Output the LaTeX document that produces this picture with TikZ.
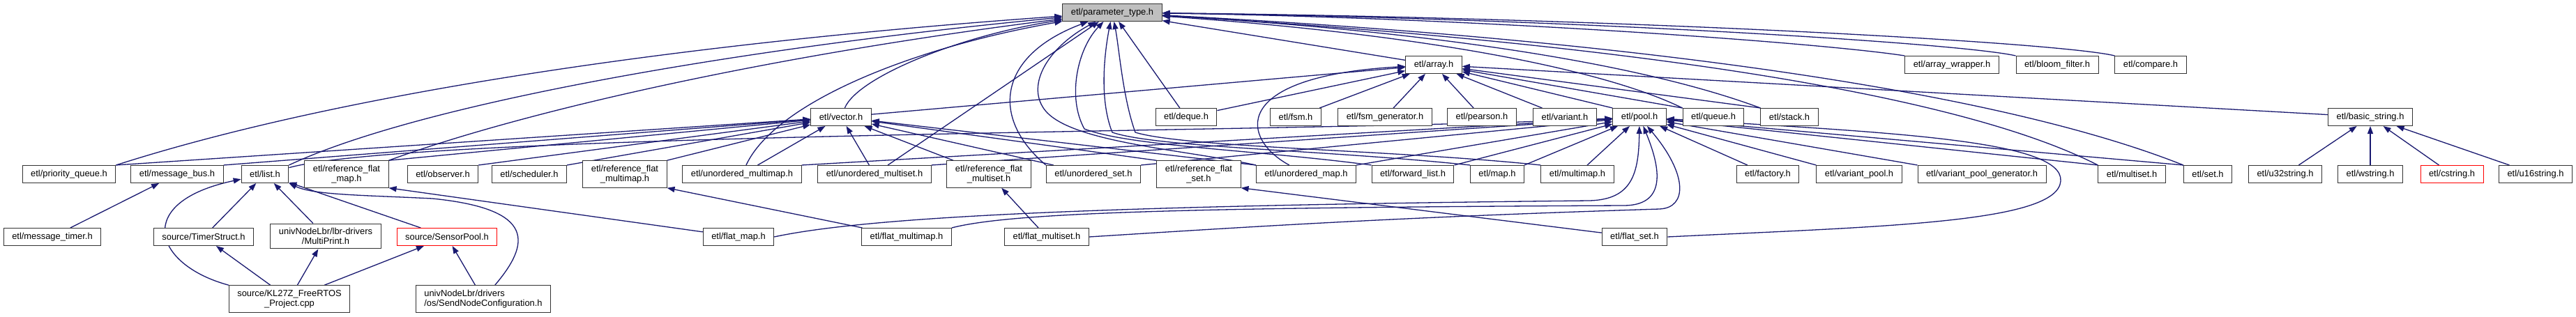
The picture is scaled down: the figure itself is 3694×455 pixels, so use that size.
\documentclass[tikz,border=0pt]{standalone}
\usepackage{fontspec}
\setmainfont{Liberation Sans}
\usetikzlibrary{arrows.meta, backgrounds}
\definecolor{edgeblue}{HTML}{191970}
\definecolor{focusgray}{HTML}{BFBFBF}

\begin{document}
\begin{tikzpicture}[x=1pt, y=-1pt]

    \tikzstyle{file} = [rectangle, draw=black!80, line width=1pt, fill=white, inner xsep=12pt, inner ysep=6pt, minimum height=25pt, align=center, font=\fontsize{12.9}{14.5}\selectfont]
    \tikzstyle{focus} = [file, fill=focusgray]
    \tikzstyle{flagged} = [file, draw=red]
    \tikzstyle{arrow} = [edgeblue, line width=1.3pt, -{Triangle[length=11pt, width=8pt]}]

    \useasboundingbox (0,0) rectangle (3694,455);

    \node (param) [focus] at (1595,18) {etl/parameter\_type.h};

    \node (array) [file] at (2056,93) {etl/array.h};
    \node (arraywrap) [file] at (2799,93) {etl/array\_wrapper.h};
    \node (bloom) [file] at (2950,93) {etl/bloom\_filter.h};
    \node (compare) [file] at (3084,93) {etl/compare.h};

    \node (vector) [file] at (1206,168) {etl/vector.h};
    \node (deque) [file] at (1701,168) {etl/deque.h};
    \node (fsm) [file] at (1858,168) {etl/fsm.h};
    \node (fsmgen) [file] at (1986,168) {etl/fsm\_generator.h};
    \node (pearson) [file] at (2125,168) {etl/pearson.h};
    \node (variant) [file] at (2244,168) {etl/variant.h};
    \node (pool) [file] at (2351,168) {etl/pool.h};
    \node (queue) [file] at (2457,168) {etl/queue.h};
    \node (stack) [file] at (2566,168) {etl/stack.h};
    \node (basicstr) [file] at (3399,168) {etl/basic\_string.h};

    \node (prio) [file] at (99,250) {etl/priority\_queue.h};
    \node (msgbus) [file] at (254,250) {etl/message\_bus.h};
    \node (list) [file] at (380,250) {etl/list.h};
    \node (refmap) [file] at (497,250) {etl/reference\_flat\\\_map.h};
    \node (observer) [file] at (635,250) {etl/observer.h};
    \node (scheduler) [file] at (759,250) {etl/scheduler.h};
    \node (refmmap) [file] at (896,250) {etl/reference\_flat\\\_multimap.h};
    \node (umultimap) [file] at (1064,250) {etl/unordered\_multimap.h};
    \node (umultiset) [file] at (1254,250) {etl/unordered\_multiset.h};
    \node (refmset) [file] at (1418,250) {etl/reference\_flat\\\_multiset.h};
    \node (uset) [file] at (1568,250) {etl/unordered\_set.h};
    \node (refset) [file] at (1719,250) {etl/reference\_flat\\\_set.h};
    \node (umap) [file] at (1873,250) {etl/unordered\_map.h};
    \node (fwdlist) [file] at (2026,250) {etl/forward\_list.h};
    \node (map) [file] at (2147,250) {etl/map.h};
    \node (multimap) [file] at (2262,250) {etl/multimap.h};
    \node (factory) [file] at (2535,250) {etl/factory.h};
    \node (varpool) [file] at (2666,250) {etl/variant\_pool.h};
    \node (varpoolgen) [file] at (2842,250) {etl/variant\_pool\_generator.h};
    \node (multiset) [file] at (3057,250) {etl/multiset.h};
    \node (set) [file] at (3166,250) {etl/set.h};
    \node (u32) [file] at (3277,250) {etl/u32string.h};
    \node (wstring) [file] at (3399,250) {etl/wstring.h};
    \node (cstring) [flagged] at (3516,250) {etl/cstring.h};
    \node (u16) [file] at (3636,250) {etl/u16string.h};

    \node (msgtimer) [file] at (75,340) {etl/message\_timer.h};
    \node (timerstruct) [file] at (292,340) {source/TimerStruct.h};
    \node (multiprint) [file] at (467,339) {univNodeLbr/lbr-drivers\\/MultiPrint.h};
    \node (sensorpool) [flagged] at (641,340) {source/SensorPool.h};
    \node (flatmap) [file] at (1059,340) {etl/flat\_map.h};
    \node (flatmmap) [file] at (1300,340) {etl/flat\_multimap.h};
    \node (flatmset) [file] at (1501,340) {etl/flat\_multiset.h};
    \node (flatset) [file] at (2344,340) {etl/flat\_set.h};

    \node (kl27z) [file] at (415,429) {source/KL27Z\_FreeRTOS\\\_Project.cpp};
    \node (sendnode) [file, align=left] at (693,429) {univNodeLbr/drivers\\/os/SendNodeConfiguration.h};

    \begin{scope}[on background layer]
    \fill [white] (0,0) rectangle (3694,455);

    \draw [arrow] (prio.north east) .. controls (500,130) and (1000,60) .. (param);
    \draw [arrow] (list.north east) .. controls (600,150) and (1050,70) .. (param);
    \draw [arrow] (refmap.north east) .. controls (750,160) and (1100,80) .. (param);
    \draw [arrow] (umultimap) .. controls (1110,150) and (1300,70) .. (param);
    \draw [arrow] (umultiset) -- (param);
    \draw [arrow] (vector) .. controls (1230,110) and (1380,50) .. (param);
    \draw [arrow] (uset.north west) .. controls (1420,170) and (1430,80) .. (param);
    \draw [arrow] (umap.north west) .. controls (1700,215) and (1540,205) .. (1500,160) .. controls (1470,125) and (1500,70) .. (param);
    \draw [arrow] (fwdlist.north west) .. controls (1800,215) and (1620,210) .. (1555,185) .. controls (1530,140) and (1545,70) .. (param);
    \draw [arrow] (map.north west) .. controls (1900,215) and (1660,212) .. (1595,190) .. controls (1575,140) and (1585,70) .. (param);
    \draw [arrow] (multimap.north west) .. controls (2000,215) and (1700,212) .. (1628,190) .. controls (1610,140) and (1605,70) .. (param);
    \draw [arrow] (deque) -- (param);
    \draw [arrow] (array) -- (param);
    \draw [arrow] (arraywrap.north west) .. controls (2600,60) and (2100,25) .. (param);
    \draw [arrow] (bloom.north west) .. controls (2800,60) and (2200,25) .. (param);
    \draw [arrow] (compare.north west) .. controls (2950,60) and (2300,25) .. (param);
    \draw [arrow] (queue.north west) .. controls (2300,100) and (2050,50) .. (param);
    \draw [arrow] (stack.north west) .. controls (2350,90) and (2050,45) .. (param);
    \draw [arrow] (multiset.north west) .. controls (2800,130) and (2300,60) .. (param);
    \draw [arrow] (set.north west) .. controls (2850,125) and (2300,55) .. (param);

    \draw [arrow] (prio.north east) -- (vector);
    \draw [arrow] (msgbus.north east) -- (vector);
    \draw [arrow] (refmap.north east) -- (vector);
    \draw [arrow] (observer.north east) -- (vector);
    \draw [arrow] (scheduler.north east) -- (vector);
    \draw [arrow] (refmmap.north east) -- (vector);
    \draw [arrow] (umultimap) -- (vector);
    \draw [arrow] (umultiset) -- (vector);
    \draw [arrow] (refmset) -- (vector);
    \draw [arrow] (uset) -- (vector);
    \draw [arrow] (refset.north west) -- (vector);
    \draw [arrow] (umap.north west) -- (vector);

    \draw [arrow] (vector) -- (array);
    \draw [arrow] (deque) -- (array);
    \draw [arrow] (fsm) -- (array);
    \draw [arrow] (fsmgen) -- (array);
    \draw [arrow] (pearson) -- (array);
    \draw [arrow] (variant) -- (array);
    \draw [arrow] (pool.north west) -- (array);
    \draw [arrow] (queue.north west) -- (array);
    \draw [arrow] (stack.north west) -- (array);
    \draw [arrow] (umap) .. controls (1780,200) and (1760,110) .. (array);
    \draw [arrow] (basicstr) -- (array);

    \draw [arrow] (list) .. controls (600,190) and (1900,190) .. (pool);
    \draw [arrow] (umultimap.north east) -- (pool);
    \draw [arrow] (umultiset.north east) -- (pool);
    \draw [arrow] (uset.north east) -- (pool);
    \draw [arrow] (umap.north east) -- (pool);
    \draw [arrow] (fwdlist.north east) -- (pool);
    \draw [arrow] (map.north east) -- (pool);
    \draw [arrow] (multimap) -- (pool);
    \draw [arrow] (factory) -- (pool);
    \draw [arrow] (varpool.north west) -- (pool);
    \draw [arrow] (varpoolgen.north west) -- (pool);
    \draw [arrow] (multiset.north west) -- (pool);
    \draw [arrow] (set.north west) -- (pool);
    \draw [arrow] (flatmap.east) .. controls (1250,310) and (1600,295) .. (2280,288) .. controls (2340,286) and (2350,250) .. (pool);
    \draw [arrow] (flatmmap.north east) .. controls (1450,305) and (1700,298) .. (2330,295) .. controls (2385,294) and (2385,250) .. (pool);
    \draw [arrow] (flatmset.east) .. controls (1800,325) and (2000,312) .. (2380,300) .. controls (2420,298) and (2420,250) .. (pool);
    \draw [arrow] (flatset.east) .. controls (2700,325) and (2950,320) .. (2955,260) .. controls (2960,200) and (2700,190) .. (pool);

    \draw [arrow] (flatmap) -- (refmap.south east);
    \draw [arrow] (flatmmap) -- (refmmap.south east);
    \draw [arrow] (flatmset) -- (refmset);
    \draw [arrow] (flatset) -- (refset.south east);

    \draw [arrow] (u32) -- (basicstr);
    \draw [arrow] (wstring) -- (basicstr);
    \draw [arrow] (cstring) -- (basicstr);
    \draw [arrow] (u16) -- (basicstr);

    \draw [arrow] (msgtimer) -- (msgbus);
    \draw [arrow] (timerstruct) -- (list);
    \draw [arrow] (multiprint) -- (list);
    \draw [arrow] (sensorpool) -- (list);
    \draw [arrow] (kl27z.north west) .. controls (220,380) and (190,290) .. (list);
    \draw [arrow] (sendnode) .. controls (760,350) and (770,300) .. (620,285) .. controls (520,280) and (450,280) .. (list.south east);
    \draw [arrow] (kl27z) -- (timerstruct);
    \draw [arrow] (kl27z) -- (multiprint);
    \draw [arrow] (kl27z) -- (sensorpool);
    \draw [arrow] (sendnode) -- (sensorpool);
    \end{scope}

\end{tikzpicture}
\end{document}
